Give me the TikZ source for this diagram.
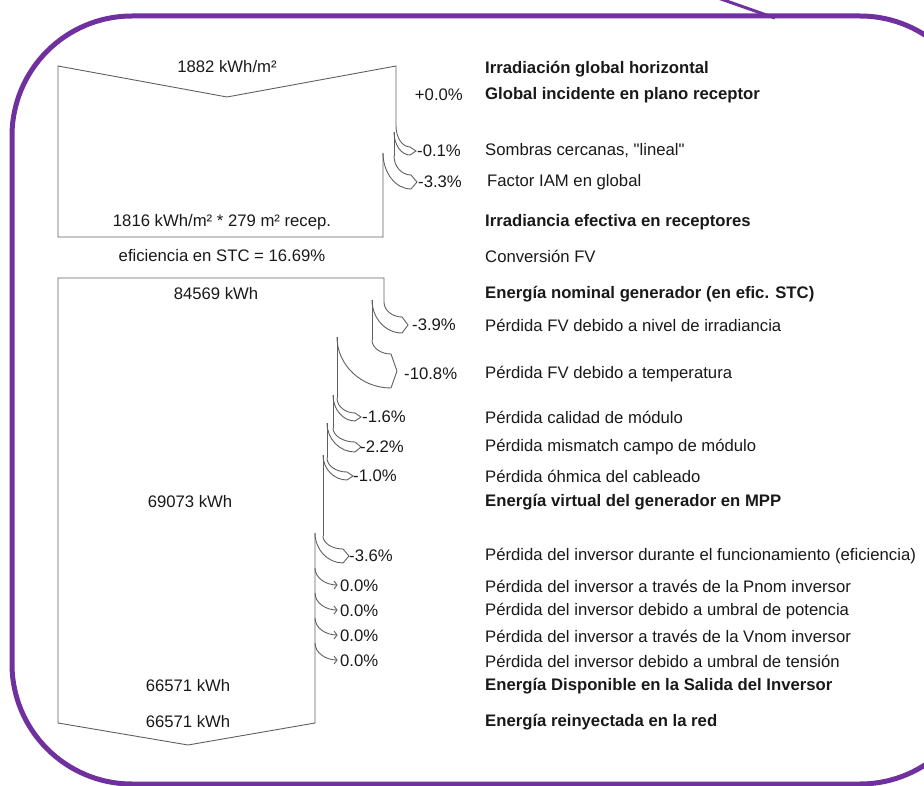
\documentclass[tikz,border=0pt]{standalone}
\usepackage{fontspec}
\setmainfont{Liberation Sans}
\definecolor{marco}{RGB}{112,48,160}
\definecolor{linea}{RGB}{95,95,95}
\definecolor{texto}{RGB}{25,25,25}
\newcommand{\tamano}{\fontsize{16.7}{20}\selectfont}
\tikzset{
  caja/.style={draw=linea, line width=0.9pt},
  valor/.style={inner sep=0pt, text=texto, font=\tamano},
  etiqueta/.style={valor, anchor=west},
  negrita/.style={etiqueta, font=\tamano\bfseries}
}
% x_old, x_new, y outer, y inner, x end, y centre, half width
\newcommand{\lossarrow}[7]{%
  \draw[caja] (#1,#3) .. controls (#1,{#3+0.55*(#6-#7-#3)}) and ({#5-0.55*(#5-#1)},{#6-#7}) .. (#5,{#6-#7})
    -- ({#5+6},#6) -- (#5,{#6+#7})
    .. controls ({#5-0.55*(#5-#2)},{#6+#7}) and (#2,{#4+0.55*(#6+#7-#4)}) .. (#2,#4);}
\newcommand{\zeroarrow}[4]{%
  \draw[caja] (#1,#2) .. controls (#1,{#2+0.55*(#4-#2)}) and ({#3-0.55*(#3-#1)},#4) .. (#3,#4);
  \draw[caja] ({#3-3},{#4-4}) -- (#3,#4) -- ({#3-3},{#4+4});}
\begin{document}
\begin{tikzpicture}[x=1pt,y=-1pt]
\useasboundingbox (0,0) rectangle (924,786);
\begin{scope}
\clip (0,0) rectangle (924,786);
\draw[marco, line width=5pt, rounded corners=120pt] (12,16) rectangle (980,784);
\draw[marco, line width=3pt] (718,-2) -- (775,18);
\end{scope}

\draw[caja] (383,153) -- (383,237) -- (58,237) -- (58,66) -- (227,97) -- (396,66) -- (396,126);
\draw[caja] (394,132) -- (394,156);
\lossarrow{396}{394}{126}{132}{410}{151}{4}
\lossarrow{394}{383}{156}{153}{411}{182}{7}

\draw[caja] (315,533) -- (315,723) -- (188,745) -- (58,723) -- (58,278) -- (384,278) -- (384,302);
\draw[caja] (372,300) -- (372,340);
\draw[caja] (337,337) -- (337,398);
\draw[caja] (333,395) -- (333,428);
\draw[caja] (327,423) -- (327,458);
\draw[caja] (323,455) -- (323,536);
\lossarrow{384}{372}{302}{300}{402}{325}{8}
\lossarrow{372}{337}{340}{337}{391}{371}{17}
\lossarrow{337}{333}{398}{395}{355}{417}{4}
\lossarrow{333}{327}{428}{423}{355}{447}{5}
\lossarrow{327}{323}{458}{455}{347}{476}{4}
\lossarrow{323}{315}{536}{533}{343}{556}{7}
\zeroarrow{315}{568}{337}{585}
\zeroarrow{315}{593}{337}{610}
\zeroarrow{315}{618}{337}{635}
\zeroarrow{315}{643}{337}{660}

\node[valor] (ghi) at (227,67) {1882 kWh/m²};
\node[valor] (efect) at (222,222) {1816 kWh/m² * 279 m² recep.};
\node[valor] (stc) at (222,256) {eficiencia en STC = 16.69\%};
\node[valor] (nom) at (216,294) {84569 kWh};
\node[valor] (mpp) at (190,502) {69073 kWh};
\node[valor] (disp) at (188,686) {66571 kWh};
\node[valor] (red) at (188,722) {66571 kWh};

\node[valor, anchor=east] (p0) at (463,95) {+0.0\%};
\node[etiqueta] (p1) at (417,151) {-0.1\%};
\node[etiqueta] (p2) at (418,182) {-3.3\%};
\node[etiqueta] (p3) at (412,325) {-3.9\%};
\node[etiqueta] (p4) at (404,374) {-10.8\%};
\node[etiqueta] (p5) at (362,417) {-1.6\%};
\node[etiqueta] (p6) at (360,447) {-2.2\%};
\node[etiqueta] (p7) at (353,476) {-1.0\%};
\node[etiqueta] (p8) at (349,556) {-3.6\%};
\node[etiqueta] (p9) at (340,586) {0.0\%};
\node[etiqueta] (p10) at (340,611) {0.0\%};
\node[etiqueta] (p11) at (340,636) {0.0\%};
\node[etiqueta] (p12) at (340,661) {0.0\%};

\node[negrita] (l1) at (485,69) {Irradiación global horizontal};
\node[negrita] (l2) at (485,95) {Global incidente en plano receptor};
\node[etiqueta] (l3) at (485,151) {Sombras cercanas, \textquotedbl lineal\textquotedbl};
\node[etiqueta] (l4) at (487,182) {Factor IAM en global};
\node[negrita] (l5) at (485,222) {Irradiancia efectiva en receptores};
\node[etiqueta] (l6) at (485,256) {Conversión FV};
\node[negrita] (l7) at (485,294) {Energía nominal generador (en efic. STC)};
\node[etiqueta] (l8) at (485,325) {Pérdida FV debido a nivel de irradiancia};
\node[etiqueta] (l9) at (485,374) {Pérdida FV debido a temperatura};
\node[etiqueta] (l10) at (485,417) {Pérdida calidad de módulo};
\node[etiqueta] (l11) at (485,447) {Pérdida mismatch campo de módulo};
\node[etiqueta] (l12) at (485,476) {Pérdida óhmica del cableado};
\node[negrita] (l13) at (485,502) {Energía virtual del generador en MPP};
\node[etiqueta] (l14) at (485,556) {Pérdida del inversor durante el funcionamiento (eficiencia)};
\node[etiqueta] (l15) at (485,586) {Pérdida del inversor a través de la Pnom inversor};
\node[etiqueta] (l16) at (485,611) {Pérdida del inversor debido a umbral de potencia};
\node[etiqueta] (l17) at (485,636) {Pérdida del inversor a través de la Vnom inversor};
\node[etiqueta] (l18) at (485,661) {Pérdida del inversor debido a umbral de tensión};
\node[negrita] (l19) at (485,686) {Energía Disponible en la Salida del Inversor};
\node[negrita] (l20) at (485,722) {Energía reinyectada en la red};
\end{tikzpicture}
\end{document}
